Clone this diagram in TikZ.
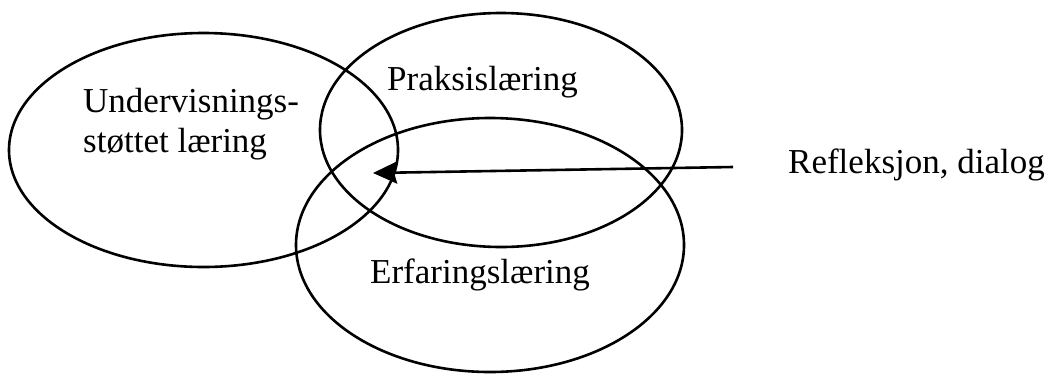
\documentclass[tikz,border=0pt]{standalone}
\usepackage{fontspec}
\setmainfont{Liberation Serif}
\usetikzlibrary{shapes.geometric,arrows.meta}
\tikzset{
  ring/.style={draw=black, line width=2.6pt, ellipse, inner sep=0pt},
  lbl/.style={font=\fontsize{35}{40}\selectfont, inner sep=0pt, text=black},
  conn/.style={line width=2.6pt, -{Stealth[length=24pt,width=22pt,inset=3pt]}}
}
\begin{document}
\begin{tikzpicture}[x=1pt,y=-1pt]
\useasboundingbox (0,0) rectangle (1052,376);
\node[ring, minimum width=389pt, minimum height=234pt] (L) at (203.5,150) {};
\node[ring, minimum width=362pt, minimum height=234pt] (T) at (501,130) {};
\node[ring, minimum width=388pt, minimum height=254pt] (B) at (490,245) {};
\node[lbl, anchor=base west, align=left] (Ltext) at (83,152) {Undervisnings-\\støttet læring};
\node[lbl, anchor=base west] (Ttext) at (387,90) {Praksislæring};
\node[lbl, anchor=base west] (Btext) at (370,283) {Erfaringslæring};
\node[lbl, anchor=base west] (R) at (788,173) {Refleksjon, dialog};
\coordinate (s) at (733,167);
\coordinate (t) at (373,173);
\draw[conn] (s) -- (t);
\end{tikzpicture}
\end{document}
